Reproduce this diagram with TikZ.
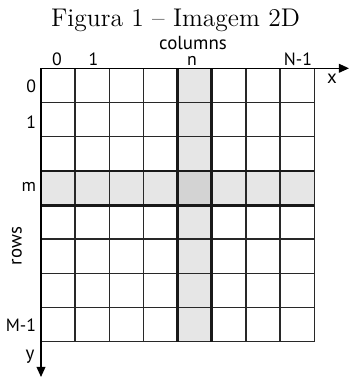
\documentclass[tikz,border=0pt]{standalone}
\usepackage{tikz}
\usetikzlibrary{arrows.meta, positioning}
\usepackage{fontspec}
\setsansfont{PT Sans}
\usepackage{xcolor}
\definecolor{bandgray}{RGB}{230, 230, 230}
\definecolor{crossgray}{RGB}{211, 211, 211}
\definecolor{gridline}{RGB}{40, 40, 40}
\tikzset{
  cellline/.style   = {gridline, line width=0.6pt},
  bandline/.style   = {black!90, line width=1.25pt},
  band/.style       = {fill=bandgray},
  cross/.style      = {fill=crossgray},
  axisline/.style   = {-{Triangle[length=4.6pt, width=4pt]}, black, line width=0.6pt},
  idx/.style        = {font=\sffamily\fontsize{8}{9}\selectfont, inner sep=0pt},
  axlabel/.style    = {font=\sffamily\fontsize{8.5}{10}\selectfont, inner sep=0pt},
  titlelabel/.style = {font=\fontsize{11.5}{13}\selectfont, inner sep=0pt},
}

\begin{document}
\begin{tikzpicture}[x=0.45pt, y=-0.45pt]
\useasboundingbox (0,0) rectangle (350,379);

% ================= Title =================
\node (title) [titlelabel, anchor=base] at (175.5, 27) {Figura 1 -- Imagem 2D};

% ================= Highlighted row m and column n =================
\fill [band] (41, 171.1) rectangle (314.2, 205.3);
\fill [band] (177.6, 68.3) rectangle (211.7, 341.5);
\fill [cross] (177.6, 171.1) rectangle (211.7, 205.3);

% ================= Grid (8 x 8 cells) =================
\foreach \i in {1,...,8} {
  \draw [cellline] ({41 + 34.15*\i}, 68.3) -- ({41 + 34.15*\i}, 341.5);
  \draw [cellline] (41, {68.3 + 34.15*\i}) -- (314.2, {68.3 + 34.15*\i});
}
\draw [bandline] (41, 171.1) -- (314.2, 171.1);
\draw [bandline] (41, 205.3) -- (314.2, 205.3);
\draw [bandline] (177.6, 68.3) -- (177.6, 341.5);
\draw [bandline] (211.7, 68.3) -- (211.7, 341.5);

% ================= Axes =================
\coordinate (origin) at (41, 68.3);
\coordinate (xend)   at (349, 68.3);
\coordinate (yend)   at (41, 377);
\draw [axisline] (origin) -- (xend);
\draw [axisline] (origin) -- (yend);

\node (xlab) [axlabel] at (332, 79) {x};
\node (ylab) [axlabel] at (30, 357) {y};

% ================= Column indices =================
\node (columns) [axlabel, anchor=base] at (193, 49.5) {columns};
\node (col0)  [idx, anchor=base] at (57, 65.5)   {0};
\node (col1)  [idx, anchor=base] at (93.5, 65.5) {1};
\node (coln)  [idx, anchor=base] at (192, 65.5)  {n};
\node (colN)  [idx, anchor=base] at (298, 65.5)  {N-1};

% ================= Row indices =================
\node (rows) [axlabel, rotate=90] at (17, 246) {rows};
\node (row0) [idx, anchor=east] at (36.5, 86)    {0};
\node (row1) [idx, anchor=east] at (36.5, 122)   {1};
\node (rowm) [idx, anchor=east] at (36.5, 187)   {m};
\node (rowM) [idx, anchor=east] at (36.5, 325)   {M-1};

\end{tikzpicture}
\end{document}
